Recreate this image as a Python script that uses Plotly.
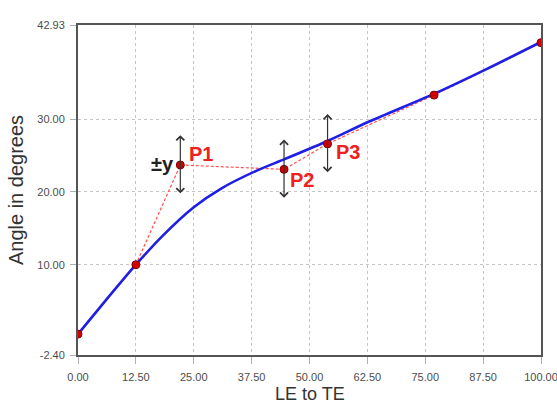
import plotly.graph_objects as go

# Control points (red markers, joined by dashed line)
pt_x = [0.0, 12.5, 22.1, 44.5, 53.9, 76.9, 100.0]
pt_y = [0.47, 10.0, 23.7, 23.1, 26.6, 33.3, 40.5]

# Smooth fitted curve (blue)
fit_x = [0, 6.25, 12.5, 18, 25, 31, 38.5, 44.6, 53.9, 63, 77, 88, 100]
fit_y = [0.47, 5.3, 10.0, 13.8, 17.9, 20.5, 22.9, 24.5, 27.0, 29.7, 33.5, 36.8, 40.6]

# Labelled points with ±y arrows
lab_names = ["P1", "P2", "P3"]
lab_x = [22.1, 44.5, 53.9]
lab_y = [23.7, 23.1, 26.6]
lab_dy = 4.1
lab_off = [(21, -11), (18, 11), (20, 8)]

x_ticks = [0, 12.5, 25, 37.5, 50, 62.5, 75, 87.5, 100]
y_ticks = [-2.40, 10.0, 20.0, 30.0, 42.93]

x_title = "LE to TE"
y_title = "Angle in degrees"

FONT = "Liberation Sans, Arial"

fig = go.Figure()
fig.add_trace(go.Scatter(x=pt_x, y=pt_y, mode="lines",
                         line=dict(color="#ff5050", width=1.2, dash="3px,2px"),
                         hoverinfo="skip", showlegend=False))
fig.add_trace(go.Scatter(x=fit_x, y=fit_y, mode="lines",
                         line=dict(color="#1e1ee6", width=2.6, shape="spline", smoothing=0.7),
                         showlegend=False))
fig.add_trace(go.Scatter(x=pt_x, y=pt_y, mode="markers",
                         marker=dict(color="#d40000", size=8, line=dict(color="#7a0000", width=1)),
                         showlegend=False))

for name, px, py, (ox, oy) in zip(lab_names, lab_x, lab_y, lab_off):
    fig.add_annotation(x=px, y=py + lab_dy, ax=px, ay=py - lab_dy, xref="x", yref="y",
                       axref="x", ayref="y", showarrow=True, arrowhead=4, startarrowhead=4,
                       arrowside="end+start", arrowsize=1.3, startarrowsize=1.3,
                       arrowwidth=1.2, arrowcolor="#333333", text="")
    fig.add_annotation(x=px, y=py, xref="x", yref="y", text="<b>" + name + "</b>",
                       showarrow=False, xshift=ox, yshift=-oy, xanchor="center",
                       font=dict(family=FONT, size=20, color="#ee2020"))

fig.add_annotation(x=lab_x[0], y=lab_y[0], xref="x", yref="y", text="<b>±y</b>",
                   showarrow=False, xanchor="right", xshift=-4, yshift=1,
                   font=dict(family=FONT, size=20, color="#222222"))

# x-axis title, placed low near the bottom edge as in the reference
fig.add_annotation(x=0.5, y=0, xref="paper", yref="paper", text=x_title,
                   showarrow=False, xanchor="center", yanchor="top", yshift=-27,
                   font=dict(family=FONT, size=18, color="#333333"))

fig.update_xaxes(range=[0, 100], tickvals=x_ticks,
                 ticktext=[f"{v:.2f}" for v in x_ticks],
                 showgrid=True, gridcolor="#c4c4c4", griddash="3px,3px", gridwidth=1,
                 showline=True, linecolor="#555555", linewidth=2, mirror=True,
                 ticks="outside", ticklen=7, tickcolor="#b0b0b0", ticklabelstandoff=4,
                 ticklabeloverflow="allow",
                 tickfont=dict(family=FONT, size=11, color="#4d4d4d"),
                 zeroline=False)
fig.update_yaxes(range=[-2.40, 42.93], tickvals=y_ticks,
                 ticktext=[f"{v:.2f}" for v in y_ticks],
                 showgrid=True, gridcolor="#c4c4c4", griddash="3px,3px", gridwidth=1,
                 showline=True, linecolor="#555555", linewidth=2, mirror=True,
                 ticks="outside", ticklen=6, tickcolor="#b0b0b0", ticklabelstandoff=3,
                 ticklabeloverflow="allow",
                 tickfont=dict(family=FONT, size=11, color="#4d4d4d"),
                 zeroline=False,
                 title=dict(text=y_title, standoff=8,
                            font=dict(family=FONT, size=20, color="#333333")))

fig.update_layout(width=557, height=406, margin=dict(l=78, r=16, t=25, b=51, autoexpand=False),
                  plot_bgcolor="white", paper_bgcolor="white")

fig.write_html("out.html")
